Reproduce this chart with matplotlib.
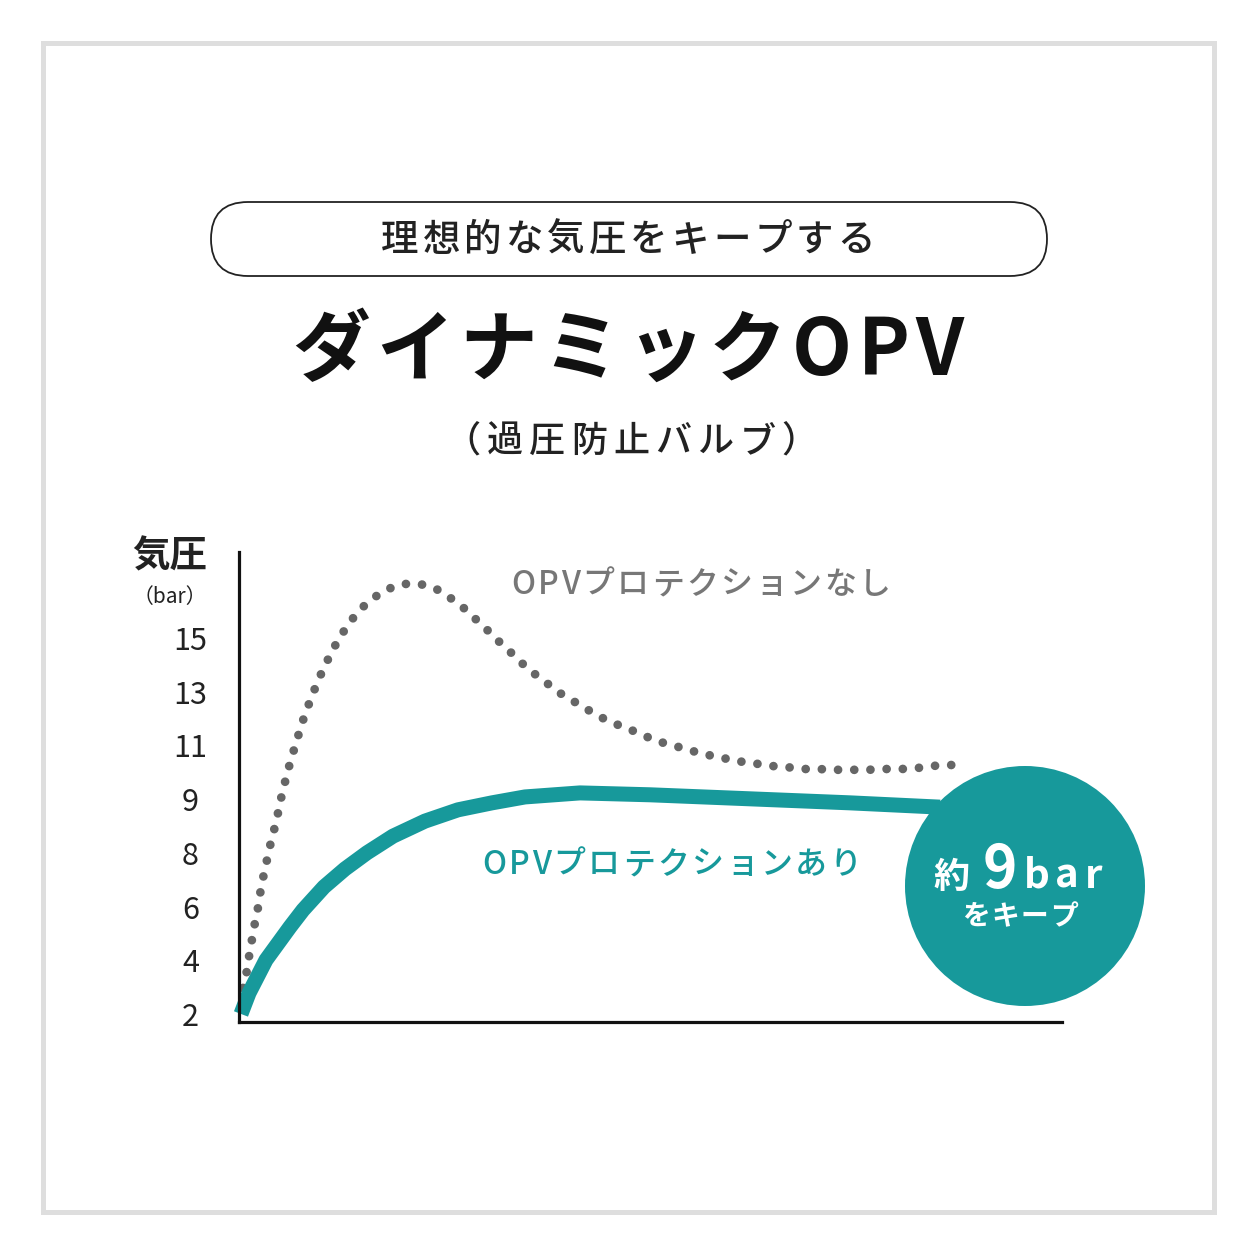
import numpy as np
import matplotlib
matplotlib.use("Agg")
import matplotlib.pyplot as plt
from matplotlib.patches import FancyBboxPatch, Circle, Rectangle

plt.rcParams['font.family'] = ['Noto Sans CJK JP', 'DejaVu Sans']

# DATA
# y axis is not linear: the labelled pressures are drawn evenly spaced
tick_bar = [2, 4, 6, 8, 9, 11, 13, 15]

# OPV protection OFF (dotted grey) - time (arbitrary units), pressure (bar)
t_off = [0.24, 0.49, 0.94, 1.25, 1.58, 1.94, 2.35, 2.64, 3.04, 3.49, 3.92, 4.46,
         4.86, 5.29, 5.80, 6.32, 6.93, 7.50, 8.14, 8.87, 9.64, 10.49, 11.39,
         12.39, 13.52, 14.82, 16.32, 18.07, 19.93, 21.99, 23.94, 25.64, 27.25,
         28.76, 30.22, 31.68, 33.17, 34.63, 36.21, 37.83, 39.49, 41.19, 43.01,
         44.84, 46.66, 48.48, 50.43, 52.37, 54.31, 56.26, 58.32, 60.27, 62.33,
         64.28, 66.34, 68.41, 70.35, 72.42, 74.48, 76.43, 78.49, 80.56, 82.50,
         84.57, 86.63]
p_off = [2.37, 2.97, 3.58, 4.20, 4.78, 5.40, 6.02, 6.62, 7.24, 7.86, 8.23, 8.54,
         8.83, 9.28, 9.88, 10.49, 11.08, 11.68, 12.26, 12.84, 13.44, 14.00, 14.56,
         15.09, 15.61, 16.09, 16.49, 16.82, 17.01, 17.01, 16.83, 16.50, 16.13,
         15.70, 15.28, 14.84, 14.42, 13.99, 13.59, 13.22, 12.84, 12.55, 12.21,
         11.91, 11.69, 11.47, 11.20, 11.02, 10.87, 10.68, 10.57, 10.42, 10.35,
         10.24, 10.20, 10.12, 10.12, 10.09, 10.09, 10.09, 10.12, 10.12, 10.16,
         10.24, 10.27]

# OPV protection ON (teal)
t_on = [0.24, 1.22, 3.28, 6.20, 7.78, 10.33, 12.88, 15.55, 18.71, 22.60, 26.61,
        30.74, 34.75, 41.43, 49.94, 62.09, 74.24, 85.18]
p_on = [2.00, 2.78, 4.01, 5.24, 5.87, 6.73, 7.40, 8.00, 8.31, 8.59, 8.80,
        8.93, 9.08, 9.23, 9.16, 9.01, 8.93, 8.85]

label_off = "OPVプロテクションなし"
label_on = "OPVプロテクションあり"

teal = "#17999b"
grey = "#666666"
dark = "#222222"

# piecewise scale: every labelled tick one step apart, extended beyond the ends
ext_bar = np.array([0] + tick_bar + [17, 19], dtype=float)
ext_pos = np.arange(-1, len(tick_bar) + 2, dtype=float)


def fwd(v):
    return np.interp(v, ext_bar, ext_pos)


def inv(p):
    return np.interp(p, ext_pos, ext_bar)


W = 1254
fig = plt.figure(figsize=(W / 100, W / 100), dpi=100)
fig.patch.set_facecolor("white")
renderer = fig.canvas.get_renderer()

# CHART AXES
x0, x1, ytop, ybot = 239, 1062, 552, 1022
ax = fig.add_axes([x0 / W, (W - ybot) / W, (x1 - x0) / W, (ybot - ytop) / W])
ax.set_yscale("function", functions=(fwd, inv))
ax.set_xlim(0, 100)
ax.set_ylim(1.70, 18.2)
ax.set_facecolor("none")
ax.set_zorder(1)

ax.plot(t_off, p_off, color=grey, lw=6.3, linestyle=(0, (0.001, 1.85)),
        dash_capstyle="round", solid_capstyle="round")
ax.plot(t_on, p_on, color=teal, lw=10.8, solid_capstyle="butt",
        solid_joinstyle="round", clip_on=False)

for s in ["top", "right"]:
    ax.spines[s].set_visible(False)
for s in ["left", "bottom"]:
    ax.spines[s].set_linewidth(2.3)
    ax.spines[s].set_color("#111111")
ax.set_xticks([])
ax.set_yticks(tick_bar)
ax.set_yticklabels([str(v) for v in tick_bar])
ax.yaxis.set_minor_locator(matplotlib.ticker.NullLocator())
ax.tick_params(axis="y", length=0, pad=35, labelsize=22, labelcolor=dark)
for lab in ax.get_yticklabels():
    lab.set_horizontalalignment("center")

# OVERLAY AXES (pixel coordinates, y down)
bg = fig.add_axes([0, 0, 1, 1])
bg.set_xlim(0, W)
bg.set_ylim(W, 0)
bg.axis("off")
bg.set_zorder(3)
bg.patch.set_alpha(0)


def spaced(cx, y, s, gap, **kw):
    """centered text with extra letter spacing (gap in pixels)"""
    widths = []
    for ch in s:
        t = bg.text(0, 0, ch, **kw)
        widths.append(t.get_window_extent(renderer).width)
        t.remove()
    total = sum(widths) + gap * (len(s) - 1)
    x = cx - total / 2
    for ch, w in zip(s, widths):
        bg.text(x, y, ch, ha="left", **kw)
        x += w + gap


bg.add_patch(Rectangle((42.5, 42.5), 1171, 1169, fill=False, ec="#dedede", lw=3.6))

pill = FancyBboxPatch((211, 202), 836, 74, boxstyle="round,pad=0,rounding_size=37",
                      fc="white", ec="#222222", lw=1.3)
bg.add_patch(pill)
spaced(628, 240, "理想的な気圧をキープする", 4, va="center",
       fontsize=27, color=dark, fontweight="medium")

spaced(628, 352, "ダイナミックOPV", 5.5, va="center",
       fontsize=56, color="#111111", fontweight="bold")
spaced(631, 442, "（過圧防止バルブ）", 6, va="center",
       fontsize=26, color=dark, fontweight="medium")

bg.text(170, 556, "気圧", ha="center", va="center", fontsize=27,
        color=dark, fontweight="bold")
bg.text(170, 597, "（bar）", ha="center", va="center", fontsize=15, color=dark)

spaced(701, 585, label_off, 2.5, va="center", fontsize=23,
       color="#777777", fontweight="medium")
spaced(672, 865, label_on, 2.5, va="center", fontsize=23,
       color=teal, fontweight="medium")

bg.add_patch(Circle((1025, 886), 120, fc=teal, ec="none"))
bg.text(951, 888, "約", ha="center", va="baseline", fontsize=26,
        color="white", fontweight="bold")
bg.text(1000, 888, "9", ha="center", va="baseline", fontsize=42,
        color="white", fontweight="bold")
spaced(1063, 888, "bar", 5.5, va="baseline", fontsize=29,
       color="white", fontweight="bold")
spaced(1020, 917, "をキープ", 1.5, va="center", fontsize=20,
       color="white", fontweight="bold")

fig.savefig("out.png", dpi=100, facecolor="white")
